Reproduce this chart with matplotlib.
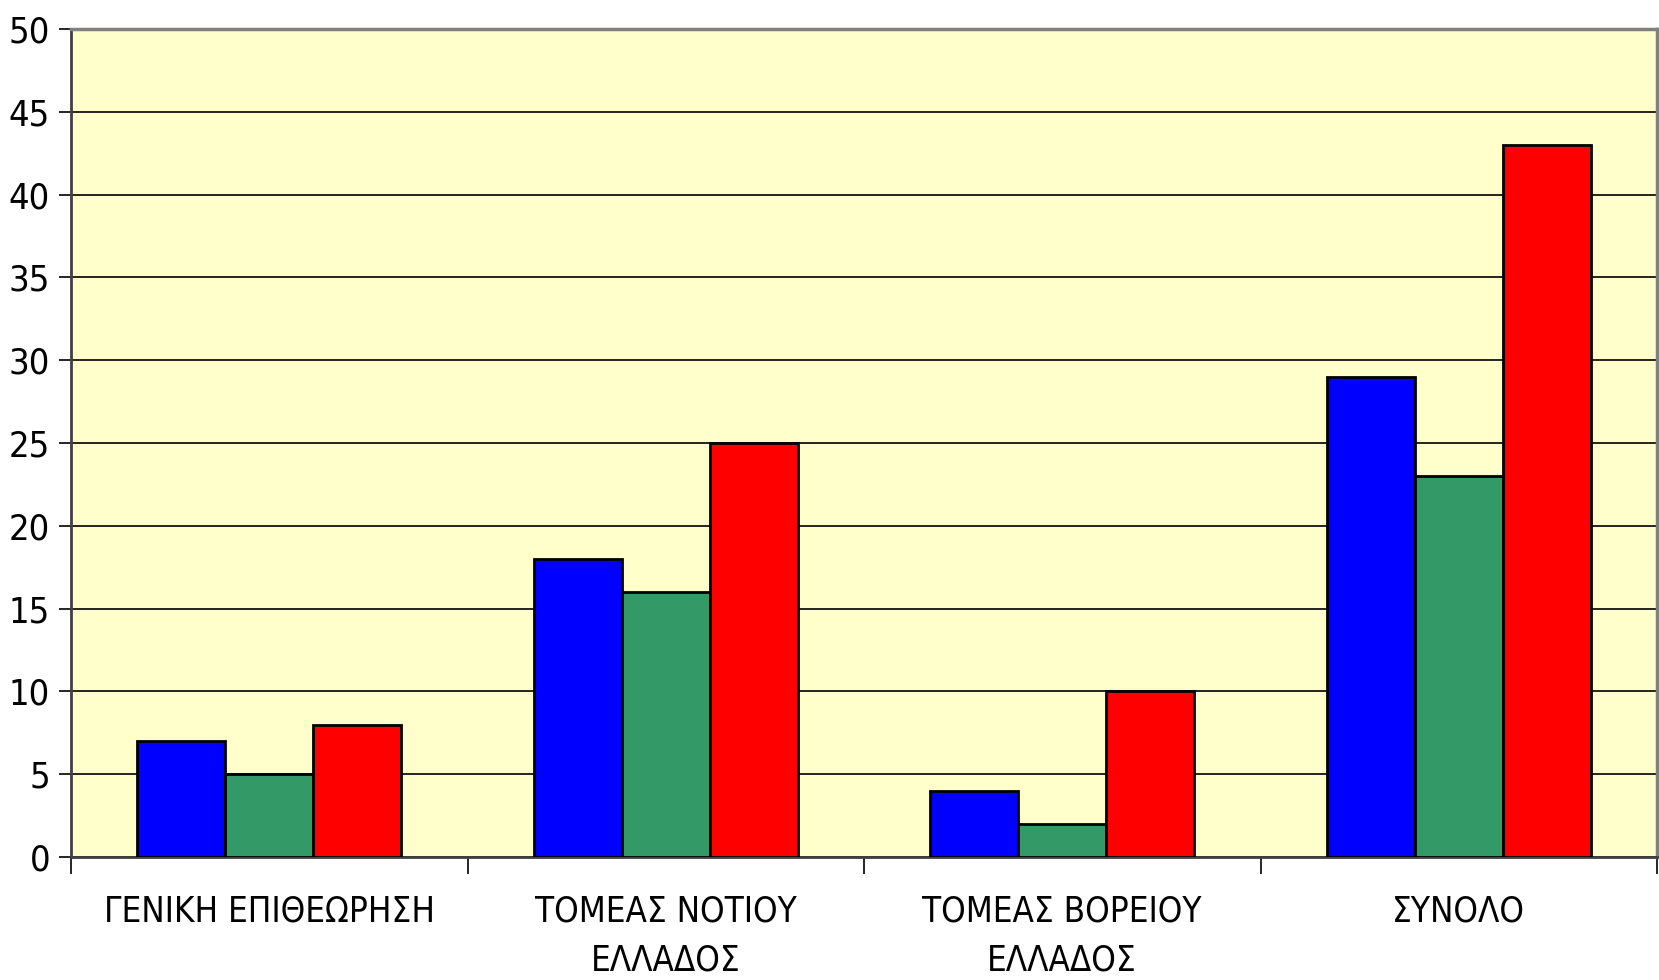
import matplotlib
matplotlib.use("Agg")
import matplotlib.pyplot as plt
import numpy as np
from matplotlib import font_manager

categories = ["ΓΕΝΙΚΗ ΕΠΙΘΕΩΡΗΣΗ", "ΤΟΜΕΑΣ ΝΟΤΙΟΥ\nΕΛΛΑΔΟΣ", "ΤΟΜΕΑΣ ΒΟΡΕΙΟΥ\nΕΛΛΑΔΟΣ", "ΣΥΝΟΛΟ"]
series_blue = [7, 18, 4, 29]
series_green = [5, 16, 2, 23]
series_red = [8, 25, 10, 43]
yticks = [0, 5, 10, 15, 20, 25, 30, 35, 40, 45, 50]

entries = font_manager.fontManager.ttflist
names = {f.name for f in entries}
stretch = 'normal'
size = 27
if "Liberation Sans Narrow" in names:
    fam = "Liberation Sans Narrow"
elif any(f.name == "DejaVu Sans" and str(f.stretch) in ("condensed", "semi-condensed") for f in entries):
    fam = "DejaVu Sans"
    stretch = 'condensed'
    size = 25
else:
    fam = "Liberation Sans"
    size = 23
plt.rcParams['font.family'] = [fam, 'DejaVu Sans']
plt.rcParams['font.stretch'] = stretch

fig = plt.figure(figsize=(16.59, 9.8), dpi=100)
ax = fig.add_axes([71/1659, 1 - 857/980, (1657-71)/1659, (857-29)/980])
ax.set_facecolor("#FFFFCC")

x = np.arange(len(categories))
w = 0.222
colors = ["#0000FF", "#339966", "#FF0000"]
for i, (vals, c) in enumerate(zip([series_blue, series_green, series_red], colors)):
    ax.bar(x + (i - 1) * w, vals, width=w, color=c, edgecolor="black", linewidth=2, zorder=3)

ax.set_xlim(-0.5, len(categories) - 0.5)
ax.set_ylim(0, 50)
ax.set_yticks(yticks)
ax.set_yticklabels([str(t) for t in yticks], fontsize=size + 1, fontstretch=stretch)
ax.yaxis.grid(True, color="black", linewidth=1.2, zorder=1)
ax.set_axisbelow(True)

ax.set_xticks(np.arange(-0.5, len(categories) + 0.5, 1.0))
ax.set_xticklabels([])
ax.set_xticks(x, minor=True)
ax.set_xticklabels(categories, minor=True, fontsize=size, fontstretch=stretch, linespacing=1.55)
ax.tick_params(axis='x', which='minor', length=0, pad=27)
ax.tick_params(axis='x', which='major', length=12, width=1.2, color="black")
ax.tick_params(axis='y', length=9, width=1.2, color="black", pad=6)

for s in ["top", "right"]:
    ax.spines[s].set_color("#808080")
    ax.spines[s].set_linewidth(2.5)
ax.spines["left"].set_color("#404040")
ax.spines["left"].set_linewidth(2)
ax.spines["bottom"].set_color("#404040")
ax.spines["bottom"].set_linewidth(2)

fig.savefig("out.png", dpi=100)
